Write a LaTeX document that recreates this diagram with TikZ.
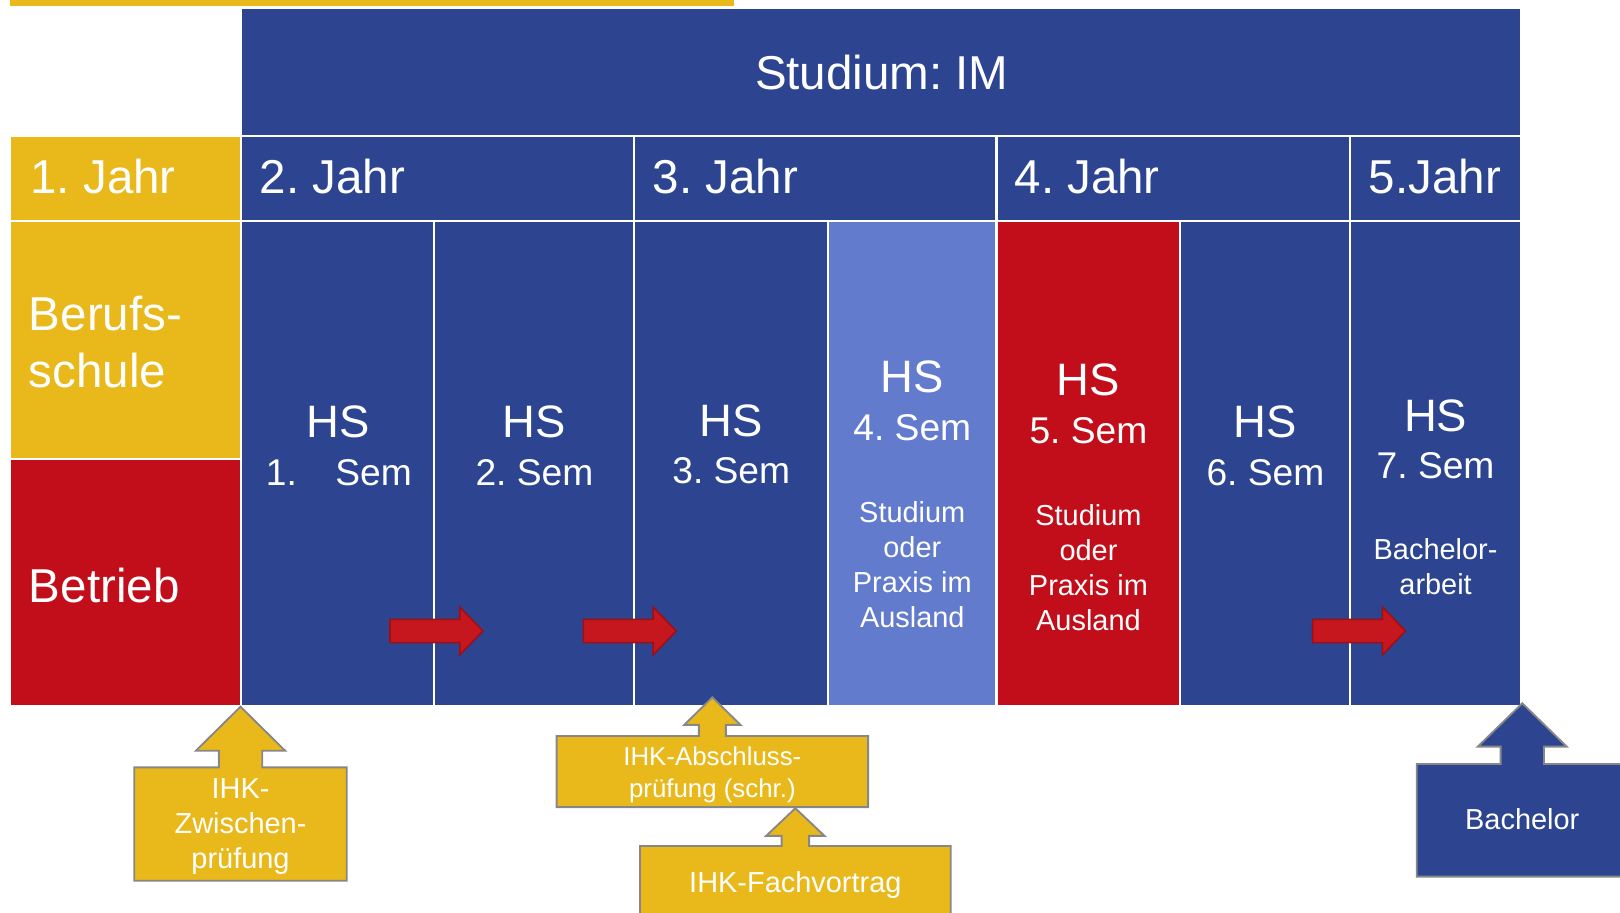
\documentclass[tikz,border=0pt]{standalone}
\usepackage{fontspec}
\setmainfont{Liberation Sans}
\usepackage{tikz}
\frenchspacing

\definecolor{imblue}{HTML}{2D4590}
\definecolor{imlight}{HTML}{627BCD}
\definecolor{imred}{HTML}{C20E1A}
\definecolor{imyellow}{HTML}{E9B81B}
\definecolor{arrowred}{HTML}{C5171D}
\definecolor{arrowdark}{HTML}{9C1015}
\definecolor{framegray}{HTML}{878787}

\tikzset{
  cell/.style={draw=white,line width=2pt,anchor=north west},
  bigtext/.style={text=white,font=\fontsize{46}{55}\selectfont},
  hstext/.style={text=white,font=\fontsize{44}{53}\selectfont,anchor=base},
  semtext/.style={text=white,font=\fontsize{36}{43}\selectfont,anchor=base},
  smalltext/.style={text=white,font=\fontsize{28}{34}\selectfont,align=center,anchor=north},
  calltext/.style={text=white,font=\fontsize{28}{33.6}\selectfont,align=center},
  yellowcall/.style={fill=imyellow,draw=framegray,line width=1.8pt},
  bluecall/.style={fill=imblue,draw=framegray,line width=1.8pt},
  redarrow/.style={fill=arrowred,draw=arrowdark,line width=1.5pt}
}

% cell from corner (x1,y1) to (x2,y2)
\newcommand{\tablecell}[6]{\node[cell,fill=#6,minimum width={#4-#2},minimum height={#5-#3}] (#1) at (#2,#3) {};}
% red block arrow: tail x, middle y
\newcommand{\blockarrow}[2]{\draw[redarrow] (#1,#2-11.3) -- ++(67.5,0) -- ++(0,-11.9) -- ++(22.5,23.2) -- ++(-22.5,23.2) -- ++(0,-11.9) -- ++(-67.5,0) -- cycle;}
% up arrow callout on a box node: style, node, shaft, head, shaft half, head half
\newcommand{\upcallout}[6]{\draw[#1] (#2.north west) -- ([xshift=-#5pt]#2.north) -- ([xshift=-#5pt,yshift=#3pt]#2.north) -- ([xshift=-#6pt,yshift=#3pt]#2.north) -- ([yshift=#3pt+#4pt]#2.north) -- ([xshift=#6pt,yshift=#3pt]#2.north) -- ([xshift=#5pt,yshift=#3pt]#2.north) -- ([xshift=#5pt]#2.north) -- (#2.north east) -- (#2.south east) -- (#2.south west) -- cycle;}

\begin{document}
\begin{tikzpicture}[x=1pt,y=-1pt,every node/.style={inner sep=0pt,outer sep=0pt}]
	\useasboundingbox (0,0) rectangle (1568,883);
	\clip (0,0) rectangle (1568,883);

	\fill[imyellow] (10,0) rectangle (710,5.5);

	\tablecell{studium}{233.5}{8}{1472}{132}{imblue}
	\tablecell{jahr1}{10}{132}{233.5}{214}{imyellow}
	\tablecell{jahr2}{233.5}{132}{614}{214}{imblue}
	\tablecell{jahr3}{614}{132}{964.5}{214}{imblue}
	\tablecell{jahr4}{964.5}{132}{1307}{214}{imblue}
	\tablecell{jahr5}{1307}{132}{1472}{214}{imblue}
	\tablecell{schule}{10}{214}{233.5}{444.5}{imyellow}
	\tablecell{betrieb}{10}{444.5}{233.5}{683}{imred}
	\tablecell{sem1}{233.5}{214}{420.5}{683}{imblue}
	\tablecell{sem2}{420.5}{214}{614}{683}{imblue}
	\tablecell{sem3}{614}{214}{801.5}{683}{imblue}
	\tablecell{sem4}{801.5}{214}{964.5}{683}{imlight}
	\tablecell{sem5}{964.5}{214}{1142.5}{683}{imred}
	\tablecell{sem6}{1142.5}{214}{1307}{683}{imblue}
	\tablecell{sem7}{1307}{214}{1472}{683}{imblue}

	\node[bigtext,anchor=base] (studiumtxt) at (853.5,86.5) {Studium: IM};
	\node[bigtext,anchor=base west] (jahr1txt) at (29.5,187) {1. Jahr};
	\node[bigtext,anchor=base west] (jahr2txt) at (251.5,187) {2. Jahr};
	\node[bigtext,anchor=base west] (jahr3txt) at (632,187) {3. Jahr};
	\node[bigtext,anchor=base west] (jahr4txt) at (982,187) {4. Jahr};
	\node[bigtext,anchor=base west] (jahr5txt) at (1325,187) {5.Jahr};
	\node[bigtext,anchor=north west,align=left] (schuletxt) at (28,287) {Berufs-\\schule};
	\node[bigtext,anchor=base west] (betriebtxt) at (28,583) {Betrieb};

	\node[hstext] (hs1) at (327,423) {HS};
	\node[semtext] (semtxt1) at (328,470) {1.\hspace{1.03em}Sem};
	\node[hstext] (hs2) at (517.3,423) {HS};
	\node[semtext] (semtxt2) at (517.3,470) {2. Sem};
	\node[hstext] (hs3) at (707.8,422) {HS};
	\node[semtext] (semtxt3) at (707.8,468) {3. Sem};
	\node[hstext] (hs4) at (883,380) {HS};
	\node[semtext] (semtxt4) at (883,426) {4. Sem};
	\node[smalltext] (ausland4) at (883,485) {Studium\\oder\\Praxis im\\Ausland};
	\node[hstext] (hs5) at (1053.5,383) {HS};
	\node[semtext] (semtxt5) at (1053.5,429) {5. Sem};
	\node[smalltext] (ausland5) at (1053.5,488) {Studium\\oder\\Praxis im\\Ausland};
	\node[hstext] (hs6) at (1224.8,423) {HS};
	\node[semtext] (semtxt6) at (1224.8,470) {6. Sem};
	\node[hstext] (hs7) at (1389.5,418) {HS};
	\node[semtext] (semtxt7) at (1389.5,463) {7. Sem};
	\node[smalltext] (arbeit) at (1389.5,521.5) {Bachelor-\\arbeit};

	\blockarrow{377.5}{610.7}
	\blockarrow{564.6}{610.7}
	\blockarrow{1270.5}{610.7}

	% callouts below the table
	\node[minimum width=205.6,minimum height=109.8] (zwischen) at (232.8,797.6) {};
	\node[minimum width=301.5,minimum height=68.9] (abschluss) at (689.5,746.8) {};
	\node[minimum width=300.8,minimum height=100] (fachvortrag) at (769.8,868.8) {};
	\node[minimum width=204.4,minimum height=109] (bachelor) at (1473.4,794) {};
	\upcallout{yellowcall}{zwischen}{16.1}{42.6}{21}{43.2}
	\upcallout{yellowcall}{abschluss}{10.7}{26.7}{13.1}{27.3}
	\upcallout{yellowcall}{fachvortrag}{9.8}{26.7}{13.3}{28.2}
	\upcallout{bluecall}{bachelor}{16.8}{42}{21}{43.1}

	\node[calltext,anchor=north] (zwischentxt) at (232.8,754) {IHK-\\Zwischen-\\prüfung};
	\node[calltext,anchor=north,font=\fontsize{25}{31}\selectfont] (abschlusstxt) at (689.5,722.5) {IHK-Abschluss-\\prüfung (schr.)};
	\node[calltext,anchor=base] (fachvortragtxt) at (769.8,864) {IHK-Fachvortrag};
	\node[calltext,anchor=base] (bachelortxt) at (1473.4,803.3) {Bachelor};
\end{tikzpicture}
\end{document}
